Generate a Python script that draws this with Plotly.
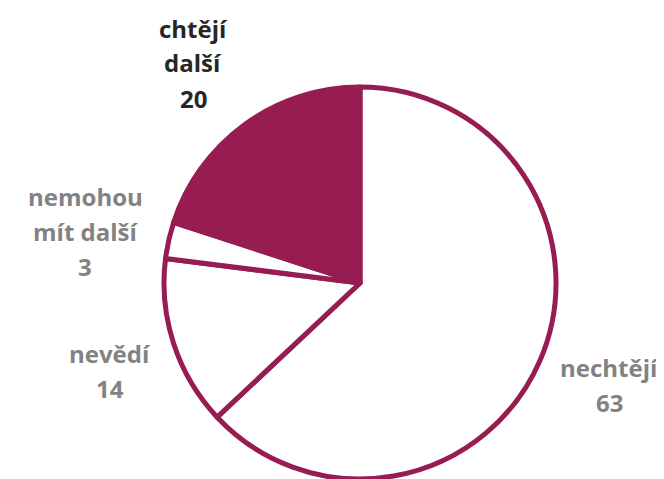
import plotly.graph_objects as go

categories = ["nechtějí", "nevědí", "nemohou mít další", "chtějí další"]
values = [63, 14, 3, 20]
label_lines = [["nechtějí"], ["nevědí"], ["nemohou", "mít další"], ["chtějí", "další"]]

PURPLE = "#961C52"
GRAY = "#828282"
DARK = "#262626"

W, H = 664, 479
OFF = 8  # page body margin
cx, cy, r = 360 - OFF, 283 - OFF, 196

fig = go.Figure(go.Pie(
    labels=categories,
    values=values,
    sort=False,
    direction="clockwise",
    rotation=0,
    marker=dict(colors=["white", "white", "white", PURPLE],
                line=dict(color=PURPLE, width=5)),
    textinfo="none",
    hoverinfo="label+value",
    showlegend=False,
    domain=dict(x=[(cx - r) / W, (cx + r) / W],
                y=[(H - cy - r) / H, (H - cy + r) / H]),
))

# label anchor positions (pixel centers of first line, page coords) and colors
label_pos = [(609, 367), (110, 353), (85, 196), (193, 28)]
label_colors = [GRAY, GRAY, GRAY, DARK]
line_gap = 35

annotations = []
for lines, val, (x, y), col in zip(label_lines, values, label_pos, label_colors):
    all_lines = lines + [str(val)]
    for i, t in enumerate(all_lines):
        annotations.append(dict(
            x=(x - OFF) / W, y=1 - (y - OFF + i * line_gap) / H, xref="paper", yref="paper",
            text=f"<b>{t}</b>", showarrow=False, xanchor="center", yanchor="middle",
            font=dict(family="Open Sans", size=24, color=col),
        ))

fig.update_layout(
    width=W, height=H,
    margin=dict(l=0, r=0, t=0, b=0),
    paper_bgcolor="white", plot_bgcolor="white",
    annotations=annotations,
)

fig.write_html("out.html")
